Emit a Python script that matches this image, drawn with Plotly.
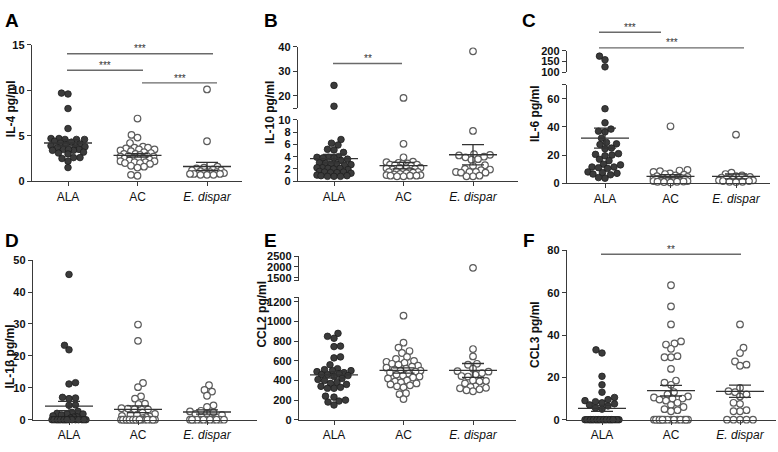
import numpy as np
import plotly.graph_objects as go

W, H = 778, 452
FONT = "Liberation Sans, Arial, Helvetica, sans-serif"
AXIS = "#3a3a3a"
DARK = "#3b3b3b"
OPEN = "#5c5c5c"
BRACKET = "#6a6a6a"

groups = ["ALA", "AC", "<i>E. dispar</i>"]

# IL-4 pg/ml
il4_ala = [9.7, 9.6, 8.0, 5.8, 4.7, 4.6, 4.6, 4.6, 4.7, 4.4, 4.3, 4.2, 4.1, 4.0, 3.9, 3.8,
           3.8, 3.7, 3.5, 3.5, 3.4, 3.4, 3.5, 3.2, 3.1, 3.0, 2.6, 2.5, 2.6, 2.2, 1.5]
il4_ac = [6.9, 5.1, 4.8, 4.2, 3.8, 3.7, 3.6, 3.7, 3.5, 3.5, 3.4, 3.3, 3.2, 3.1, 3.0, 3.0,
          2.9, 2.8, 2.8, 2.7, 2.7, 2.6, 2.6, 2.5, 2.5, 2.4, 2.3, 2.2, 2.2, 2.1, 2.1, 2.0,
          2.0, 1.9, 1.7, 1.6, 1.5, 0.7, 0.6]
il4_ed = [10.1, 4.4, 1.6, 1.5, 1.4, 1.3, 1.2, 1.2, 1.1, 1.0, 1.0, 1.0, 0.9, 0.9, 0.9,
          0.8, 0.8, 0.8, 0.7, 0.7, 0.7]

# IL-10 pg/ml
il10_ala = [24.3, 15.8, 6.8, 6.2, 5.9, 5.2, 5.1, 4.7, 4.0, 3.9, 3.9, 3.8, 3.8, 3.6, 3.4,
            3.0, 2.9, 2.8, 2.8, 2.7, 2.6, 2.2, 2.2, 2.1, 2.1, 2.0, 1.9, 1.6, 1.5, 1.5,
            1.4, 1.4, 1.3, 1.0, 0.9, 0.9, 0.8, 0.8, 0.8]
il10_ac = [19.2, 6.1, 3.9, 3.2, 3.1, 3.0, 2.9, 2.8, 2.7, 2.7, 2.6, 2.5, 2.3, 2.2, 2.2,
           2.1, 2.0, 1.9, 1.7, 1.6, 1.6, 1.5, 1.5, 1.4, 1.3, 1.2, 1.1, 1.0, 1.0, 0.9,
           0.9, 0.9, 0.8, 0.8]
il10_ed = [38.2, 8.2, 4.4, 4.3, 4.2, 4.0, 3.9, 3.6, 3.5, 2.6, 2.5, 2.0, 1.9, 1.8, 1.5,
           1.5, 1.5, 1.4, 1.4, 0.9, 0.8, 0.8]

# IL-6 pg/ml
il6_ala = [175, 158, 125, 53, 43, 38.5, 37, 36.5, 32, 29, 28, 27.5, 25, 24.5, 21, 20.5,
           20, 19.5, 17, 16, 13.5, 13, 11.5, 11.5, 11, 10.5, 8, 7.5, 7, 6.5, 6, 4, 3.5]
il6_ac = [40.5, 9.5, 9.0, 8.5, 8.0, 7.0, 6.5, 6.0, 5.5, 5.0, 4.5, 4.5, 4.0, 4.0, 3.8,
          3.5, 3.5, 3.2, 3.0, 3.0, 2.8, 2.5, 2.5, 2.2, 2.0, 2.0, 1.8, 1.5, 1.5, 1.2,
          1.0, 1.0, 0.8, 0.5]
il6_ed = [34.5, 7.5, 6.5, 5.5, 5.0, 4.5, 4.0, 3.5, 3.0, 3.0, 2.5, 2.5, 2.0, 2.0, 1.5,
          1.5, 1.0, 1.0, 0.8]

# IL-1beta pg/ml
il1b_ala = [45.5, 23.3, 21.9, 11.6, 11.2, 7.0, 6.8, 6.6, 4.6, 4.5, 2.6, 2.3, 2.0, 1.8,
            1.8, 1.5, 1.2, 0.9, 0.8, 0.5] + [0] * 17
il1b_ac = [29.8, 24.7, 11.5, 10.2, 7.3, 6.6, 5.0, 4.9, 3.6, 3.5, 3.3, 3.2, 2.2, 1.8,
           1.5, 1.5, 1.2, 1.0, 0.8, 0.5] + [0] * 18
il1b_ed = [10.8, 9.3, 8.8, 7.5, 4.5, 4.0, 2.8, 2.6, 2.3, 2.0, 1.8, 1.5] + [0] * 12

# CCL2 pg/ml
ccl2_ala = [880, 850, 830, 750, 745, 640, 630, 560, 520, 510, 500, 500, 490, 480, 470,
            460, 460, 450, 440, 420, 410, 400, 380, 370, 360, 340, 330, 320, 320, 240,
            230, 200, 190, 180, 150]
ccl2_ac = [1060, 785, 735, 700, 680, 640, 620, 600, 590, 580, 570, 560, 550, 540, 530,
           520, 510, 500, 500, 490, 480, 470, 460, 450, 440, 430, 420, 400, 390, 380,
           370, 360, 350, 340, 330, 270, 260, 210]
ccl2_ed = [1960, 720, 645, 570, 560, 520, 495, 490, 475, 460, 445, 440, 400, 395, 390,
           370, 340, 335, 325, 320, 310, 300, 290]

# CCL3 pg/ml
ccl3_ala = [33, 31.5, 20.5, 16.5, 13, 10.5, 9.5, 9, 8.5, 8, 7.5, 7, 6.5, 5.5, 5] + [0] * 21
ccl3_ac = [63.5, 53.5, 45, 37, 36, 35.5, 33.5, 30, 29.5, 29.5, 24, 18.5, 17.5, 16.5, 13,
           12, 11, 10.5, 10, 10, 9.5, 9, 8, 7, 6, 5, 4.5, 4] + [0] * 15
ccl3_ed = [45, 34, 31.5, 27.5, 26, 25.5, 15, 13.5, 13, 12, 11, 8, 7.5, 4.5, 4, 4,
           0, 0, 0, 0, 0]

# layout of the six panels, in pixels of the 778x452 page
# segs: (low, high, px_bottom, px_top, tickvals, unlabelled ticks)
PANELS = [
    dict(letter="A", at=(3, 2), title="IL-4 pg/ml", tx=11, ty=106,
         data=(il4_ala, il4_ac, il4_ed), left=32, right=242, cats=(68, 138, 207),
         segs=[(0, 15, 180, 40, [0, 5, 10, 15], [])]),
    dict(letter="B", at=(262, 2), title="IL-10 pg/ml", tx=270, ty=110,
         data=(il10_ala, il10_ac, il10_ed), left=298, right=518, cats=(334, 401, 473),
         segs=[(0, 10, 180, 117, [0, 2, 4, 6, 8, 10], []),
               (15, 40, 105, 42, [15, 20, 30, 40], [15])]),
    dict(letter="C", at=(520, 2), title="IL-6 pg/ml", tx=535, ty=111,
         data=(il6_ala, il6_ac, il6_ed), left=567, right=770, cats=(605, 671, 736),
         segs=[(0, 70, 182, 81, [0, 20, 40, 60, 70], [70]),
               (100, 200, 68, 46, [100, 150, 200], [])]),
    dict(letter="D", at=(3, 228), title="IL-1β pg/ml", tx=10, ty=360,
         data=(il1b_ala, il1b_ac, il1b_ed), left=33, right=257, cats=(69, 139, 207),
         segs=[(0, 50, 425, 261, [0, 10, 20, 30, 40, 50], [])]),
    dict(letter="E", at=(262, 228), title="CCL2 pg/ml", tx=262, ty=317,
         data=(ccl2_ala, ccl2_ac, ccl2_ed), left=299, right=516, cats=(334, 400, 473),
         segs=[(0, 1250, 425, 299, [0, 200, 400, 600, 800, 1000, 1200, 1250], [1250]),
               (1375, 2500, 282, 257, [1375, 1500, 2000, 2500], [1375])]),
    dict(letter="F", at=(521, 228), title="CCL3 pg/ml", tx=535, ty=338,
         data=(ccl3_ala, ccl3_ac, ccl3_ed), left=567, right=776, cats=(602, 671, 740),
         segs=[(0, 80, 425, 251, [0, 20, 40, 60, 80], [])]),
]

# significance bars: x0, x1, y (px), label
BRACKETS = [(67, 213, 49, "***"), (67, 143, 66, "***"), (142, 217, 79, "***"),
            (333, 402, 59, "**"),
            (599, 661, 27, "***"), (599, 744, 43, "***"),
            (601, 741, 255, "**")]


def seg_of(segs, v):
    for i, s in enumerate(segs):
        if s[0] <= v <= s[1]:
            return i
    return 0


def to_px(segs, v):
    lo, hi, b, t = segs[seg_of(segs, v)][:4]
    return b - (v - lo) / (hi - lo) * (b - t)


def swarm(ypx, d=6.4, cap=17.0):
    # simple beeswarm in pixel space, points that do not fit get squeezed in
    grid = np.arange(-cap, cap + 0.01, 0.5)
    xs = np.zeros(len(ypx))
    placed = []
    left = right = 0
    for i in np.argsort(-np.asarray(ypx), kind="stable"):
        y = ypx[i]
        if not placed:
            x = 0.0
        else:
            P = np.array(placed)
            dist = np.sqrt((grid[:, None] - P[None, :, 0]) ** 2 + (y - P[None, :, 1]) ** 2).min(axis=1)
            ok = grid[dist >= d]
            if len(ok):
                m = np.abs(ok).min()
                cands = ok[np.isclose(np.abs(ok), m)]
                if len(cands) == 1:
                    x = cands[0]
                else:
                    x = cands.min() if left <= right else cands.max()
            else:
                x = grid[int(np.argmax(dist))]
        if x < 0:
            left += 1
        elif x > 0:
            right += 1
        xs[i] = x
        placed.append((x, y))
    return xs


fig = go.Figure()
layout = {}
annotations = []
shapes = []
n = 0

for p in PANELS:
    unit = (p["cats"][2] - p["cats"][0]) / 2
    xr = [(p["left"] - p["cats"][0]) / unit, 2 + (p["right"] - p["cats"][2]) / unit]
    ids = []
    for si, (lo, hi, b, t, tv, blank) in enumerate(p["segs"]):
        n += 1
        sfx = "" if n == 1 else str(n)
        ids.append(("x" + sfx, "y" + sfx))
        layout["xaxis" + sfx] = dict(
            domain=[p["left"] / W, p["right"] / W], range=xr, anchor="y" + sfx,
            visible=(si == 0), showline=True, linecolor=AXIS, linewidth=1.4,
            tickvals=[0, 1, 2], ticktext=groups, ticks="outside", ticklen=4,
            tickcolor=AXIS, tickwidth=1.2, showgrid=False, zeroline=False,
            tickfont=dict(family=FONT, size=12, color="#111"),
        )
        layout["yaxis" + sfx] = dict(
            domain=[1 - b / H, 1 - t / H], range=[lo, hi], anchor="x" + sfx,
            showline=True, linecolor=AXIS, linewidth=1.4, ticks="outside", ticklen=4,
            tickcolor=AXIS, tickwidth=1.2, showgrid=False, zeroline=False,
            tickvals=tv, ticktext=["" if v in blank else str(v) for v in tv],
            tickfont=dict(family=FONT, size=11, color="#111", weight="bold"),
        )

    for gi, vals in enumerate(p["data"]):
        vals = np.asarray(vals, dtype=float)
        ypx = np.array([to_px(p["segs"], v) for v in vals])
        xs = gi + swarm(ypx) / unit
        segi = np.array([seg_of(p["segs"], v) for v in vals])
        if gi == 0:
            mk = dict(size=6.6, color=DARK, line=dict(color="#1e1e1e", width=0.8))
        else:
            mk = dict(size=6.6, color="white", line=dict(color=OPEN, width=1.2))
        for si, (xid, yid) in enumerate(ids):
            sel = segi == si
            if sel.any():
                fig.add_trace(go.Scatter(x=xs[sel], y=vals[sel], mode="markers", marker=mk,
                                         xaxis=xid, yaxis=yid, cliponaxis=False,
                                         showlegend=False, hoverinfo="y"))
        # mean +/- SEM
        mean = vals.mean()
        sem = vals.std(ddof=1) / np.sqrt(len(vals))
        hw, cw = 24 / unit, 11 / unit
        lx = [gi - hw, gi + hw, None, gi - cw, gi + cw, None, gi - cw, gi + cw, None, gi, gi]
        ly = [mean, mean, None, mean + sem, mean + sem, None, mean - sem, mean - sem, None,
              mean - sem, mean + sem]
        xid, yid = ids[seg_of(p["segs"], mean)]
        fig.add_trace(go.Scatter(x=lx, y=ly, mode="lines", line=dict(color="#333", width=1.3),
                                 xaxis=xid, yaxis=yid, cliponaxis=False,
                                 showlegend=False, hoverinfo="skip"))

    annotations.append(dict(text="<b>%s</b>" % p["letter"], x=p["at"][0] / W, y=1 - p["at"][1] / H,
                            xref="paper", yref="paper", xanchor="left", yanchor="top",
                            showarrow=False, font=dict(family=FONT, size=19, color="#000")))
    annotations.append(dict(text="<b>%s</b>" % p["title"], x=p["tx"] / W, y=1 - p["ty"] / H,
                            xref="paper", yref="paper", xanchor="center", yanchor="middle",
                            textangle=-90, showarrow=False,
                            font=dict(family=FONT, size=12, color="#111")))

for x0, x1, y, lab in BRACKETS:
    shapes.append(dict(type="line", xref="paper", yref="paper", x0=x0 / W, x1=x1 / W,
                       y0=1 - y / H, y1=1 - y / H, line=dict(color=BRACKET, width=1.4)))
    annotations.append(dict(text=lab, x=(x0 + x1) / 2 / W, y=1 - (y - 5) / H, xref="paper",
                            yref="paper", xanchor="center", yanchor="middle", showarrow=False,
                            font=dict(family=FONT, size=10, color="#333")))

fig.update_layout(
    **layout,
    width=W, height=H,
    margin=dict(l=0, r=0, t=0, b=0),
    plot_bgcolor="white", paper_bgcolor="white",
    showlegend=False,
    annotations=annotations,
    shapes=shapes,
    font=dict(family=FONT),
)

# page body has a default 8px margin; drop it so the figure sits at the window corner
fig.write_html("out.html", config={"displayModeBar": False},
               post_script="document.body.style.margin='0px';")
